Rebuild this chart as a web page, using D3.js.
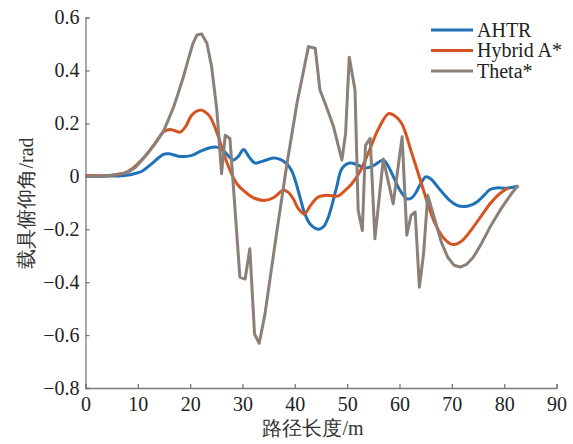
<!DOCTYPE html>
<html><head><meta charset="utf-8">
<script src="https://cdn.jsdelivr.net/npm/d3@7"></script>
<style>body{margin:0;background:#fff}svg{display:block}</style>
</head><body><svg id="c" width="573" height="444"></svg>
<script>
const seriesNames = ["AHTR", "Hybrid A*", "Theta*"];
const seriesColors = ["#1f72b8", "#d6541f", "#8a8078"];
const xTicks = [0,10,20,30,40,50,60,70,80,90];
const yTicks = [-0.8,-0.6,-0.4,-0.2,0,0.2,0.4,0.6];
const xTitle = "路径长度/m";
const yTitle = "载具俯仰角/rad";

const ahtrX = [0,5,7.5,9,10.7,12.5,14.9,16,17.7,19,20.3,22,23.8,24.7,25.7,26.6,28.2,29.2,30.2,31.2,32.4,34,35.9,37.3,38.4,39.3,40,41,41.9,43,44.6,45.5,46.3,47,48,49,50.5,52,53.4,55,56.9,57.8,58.8,60,61.4,62.3,63,64,65,66,67.7,69.7,71,72.5,73.8,74.8,76,77.3,78.5,80.5,82.7];
const ahtrY = [0,0.001,0.003,0.008,0.018,0.045,0.083,0.085,0.076,0.075,0.079,0.095,0.108,0.111,0.106,0.092,0.062,0.075,0.101,0.075,0.05,0.058,0.069,0.063,0.048,0.025,-0.01,-0.08,-0.141,-0.182,-0.2,-0.19,-0.16,-0.116,-0.04,0.029,0.05,0.043,0.031,0.04,0.061,0.04,0,-0.05,-0.085,-0.082,-0.066,-0.03,-0.002,-0.01,-0.05,-0.093,-0.11,-0.114,-0.108,-0.097,-0.075,-0.05,-0.044,-0.045,-0.038];

const hybridX = [0,5,7.5,9,10.7,12,13.3,14.9,16.1,17,18.1,19.2,20.3,21.9,22.8,23.8,25.4,26.5,27.9,29,30.5,32.3,34.3,36,37.8,38.7,39.7,40.6,41.8,43,44.5,46,48.3,49.5,50.9,52.5,54,56,57.9,59,60.4,62.3,64.2,65.5,66.8,68.3,69.7,70.5,72,74.1,75.8,77.3,79,80.8];
const hybridY = [0.003,0.004,0.013,0.03,0.061,0.09,0.124,0.168,0.177,0.173,0.167,0.19,0.231,0.25,0.244,0.225,0.149,0.08,0.01,-0.03,-0.059,-0.083,-0.091,-0.08,-0.053,-0.06,-0.085,-0.12,-0.143,-0.11,-0.078,-0.072,-0.074,-0.055,-0.028,0.02,0.086,0.18,0.237,0.23,0.2,0.09,-0.028,-0.11,-0.179,-0.23,-0.255,-0.258,-0.243,-0.192,-0.145,-0.104,-0.068,-0.043];

const thetaX = [0,3,5,7.5,8.5,9.5,10.7,12,13.3,14.9,15.8,16.8,17.7,18.7,19.6,20.5,21.3,22.2,23.2,24.1,25.1,26,26.7,27.6,29.5,30.5,31.4,32.3,33.2,34.3,36.5,38.4,40.4,42.6,43.9,44.8,45.8,47.4,49,49.7,50.4,51.5,52.1,52.9,53.5,54.4,55.3,56.9,58.8,60.5,61.4,62.2,63,63.8,64.6,65.4,66.8,68,69.2,70.4,71.6,72.8,74.1,75.5,77.3,79.2,80.5,81.6,82.7];
const thetaY = [0,0.001,0.004,0.012,0.02,0.033,0.06,0.09,0.124,0.17,0.212,0.26,0.313,0.375,0.439,0.5,0.534,0.538,0.503,0.414,0.25,0.01,0.155,0.143,-0.381,-0.388,-0.274,-0.596,-0.631,-0.52,-0.217,0.035,0.275,0.49,0.484,0.326,0.275,0.187,0.061,0.162,0.45,0.326,-0.129,-0.205,0.117,0.143,-0.236,0.065,-0.104,0.149,-0.223,-0.148,-0.135,-0.419,-0.293,-0.072,-0.167,-0.25,-0.305,-0.336,-0.343,-0.333,-0.306,-0.26,-0.192,-0.129,-0.091,-0.06,-0.034];

const FONT = '"Liberation Serif"';
const svg = d3.select("#c");
const x = d3.scaleLinear().domain([0,90]).range([85.5,556.5]);
const y = d3.scaleLinear().domain([-0.8,0.6]).range([388,17.5]);
const axisCol = "#7a7a7a";
const fmt = d => d === 0 ? "0" : (d < 0 ? "\u2212" : "") + Math.abs(d).toFixed(1);

const gx = svg.append("g").attr("transform",`translate(0,${y(-0.8)})`)
  .call(d3.axisBottom(x).tickValues(xTicks).tickSize(-4).tickPadding(9).tickFormat(d3.format("d")));
const gy = svg.append("g").attr("transform",`translate(${x(0)},0)`)
  .call(d3.axisLeft(y).tickValues(yTicks).tickSize(-4).tickPadding(6).tickFormat(fmt));
[gx,gy].forEach(g=>{
  g.attr("font-family",null).attr("font-size",null);
  g.select(".domain").attr("stroke",axisCol).attr("stroke-width",1.3);
  g.selectAll(".tick line").attr("stroke",axisCol).attr("stroke-width",1.3);
  g.selectAll(".tick text").attr("fill","#222").style("font-family",FONT).style("font-size","20px");
});

const series = [
  {x: ahtrX, y: ahtrY, curve: d3.curveCatmullRom.alpha(0.5)},
  {x: hybridX, y: hybridY, curve: d3.curveCatmullRom.alpha(0.5)},
  {x: thetaX, y: thetaY, curve: d3.curveLinear}
];
series.forEach((s,i)=>{
  const pts = s.x.map((v,k)=>[v,s.y[k]]);
  svg.append("path").datum(pts)
    .attr("fill","none").attr("stroke",seriesColors[i]).attr("stroke-width",3)
    .attr("stroke-linejoin","round")
    .attr("d", d3.line().x(d=>x(d[0])).y(d=>y(d[1])).curve(s.curve));
});

const lg = svg.append("g");
seriesNames.forEach((n,i)=>{
  const ly = 30 + i*20.5;
  lg.append("line").attr("x1",431).attr("x2",473).attr("y1",ly).attr("y2",ly)
    .attr("stroke",seriesColors[i]).attr("stroke-width",3);
  lg.append("text").attr("x",477).attr("y",ly+6.5).text(n)
    .attr("fill","#222").style("font-family",FONT).style("font-size","20px");
});

svg.append("text").attr("x",313).attr("y",435).attr("text-anchor","middle")
  .text(xTitle).attr("fill","#333").style("font-family",FONT).style("font-size","20px");
svg.append("text").attr("transform","translate(33,203) rotate(-90)").attr("text-anchor","middle")
  .text(yTitle).attr("fill","#333").style("font-family",FONT).style("font-size","20px");
</script></body></html>
